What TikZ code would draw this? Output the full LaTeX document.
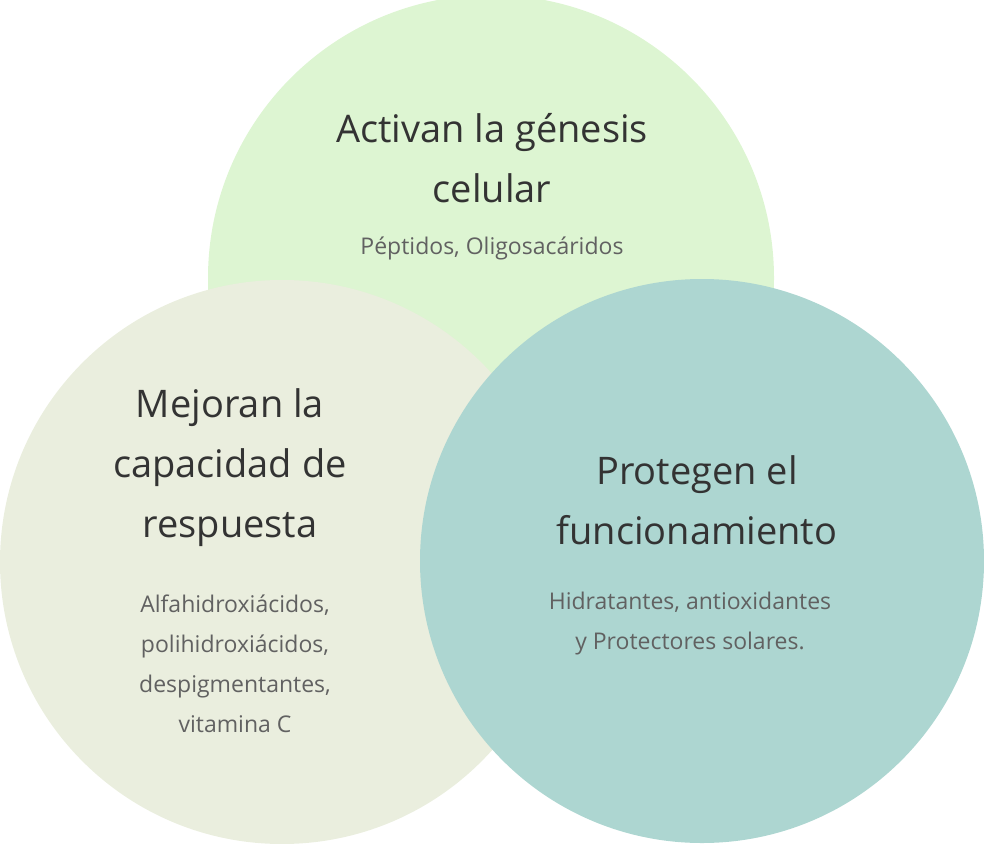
\documentclass[tikz,border=0pt]{standalone}
\usepackage{fontspec}
\setmainfont{Open Sans}
\begin{document}
\begin{tikzpicture}[x=1pt,y=-1pt,
 ttl/.style={text=black!80,font=\fontsize{38}{60}\selectfont,align=center,anchor=center},
 sub/.style={text=black!62,font=\fontsize{23}{40}\selectfont,align=center,anchor=center}]
\useasboundingbox (0,0) rectangle (984,843);
\begin{scope}
\clip (0,0) rectangle (984,843);
\fill[fill={rgb,255:red,221;green,245;blue,210}] (491,278) circle (283) coordinate (ct);
\fill[fill={rgb,255:red,234;green,238;blue,222}] (282,562) circle (282) coordinate (cl);
\fill[fill={rgb,255:red,173;green,214;blue,209}] (702,561) circle (282) coordinate (cr);
\end{scope}
\node[ttl] (t1) at (492,158) {Activan la génesis\\celular};
\node[sub] (s1) at (492,248) {Péptidos, Oligosacáridos};
\node[ttl] (t2) at (230,468) {Mejoran la\\capacidad de\\respuesta};
\node[sub] (s2) at (235,664) {Alfahidroxiácidos,\\polihidroxiácidos,\\despigmentantes,\\vitamina C};
\node[ttl] (t3) at (697,500) {Protegen el\\funcionamiento};
\node[sub] (s3) at (690,624) {Hidratantes, antioxidantes\\y Protectores solares.};
\end{tikzpicture}
\end{document}
